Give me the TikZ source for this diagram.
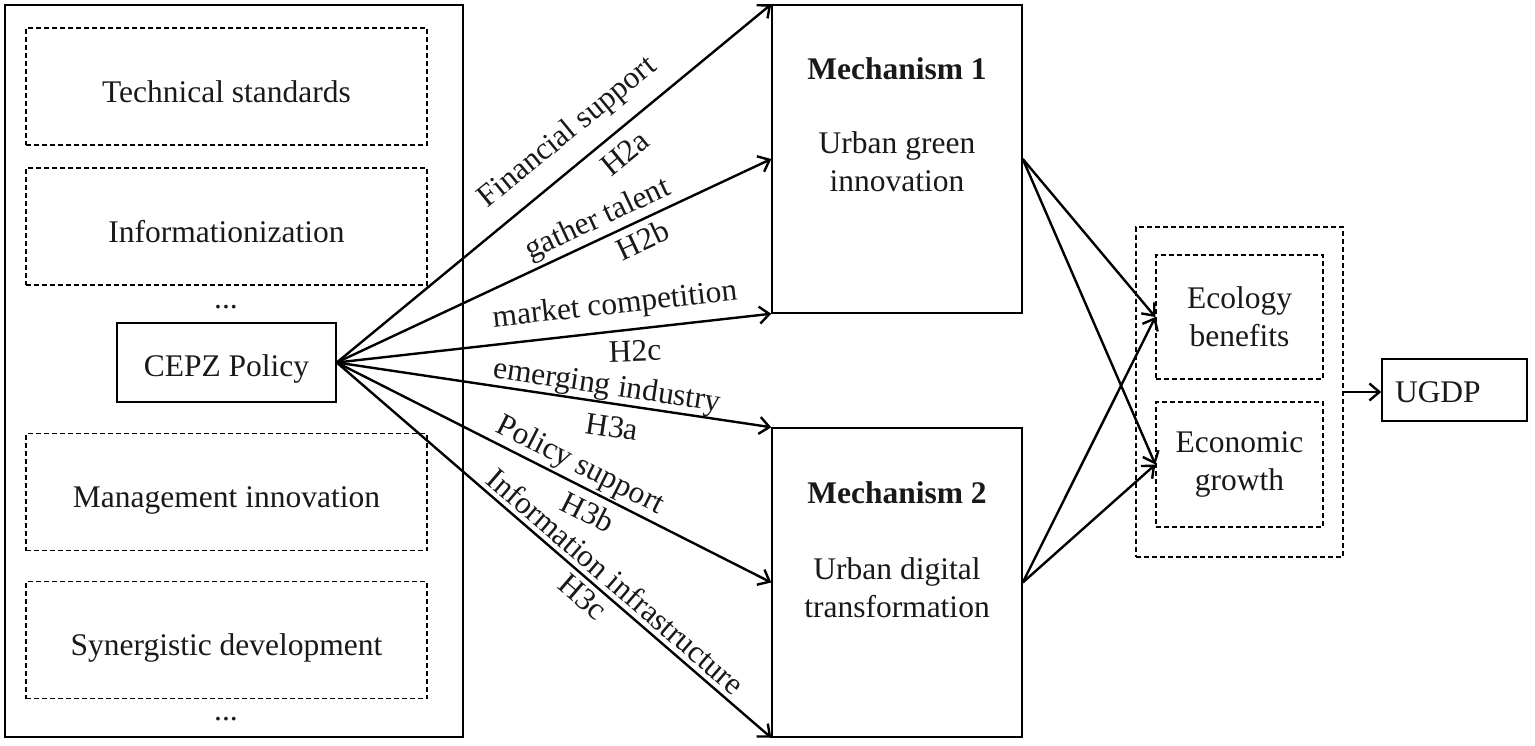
\documentclass[tikz,border=0pt]{standalone}
\usepackage{fontspec}
\setmainfont{Liberation Serif}
\usetikzlibrary{arrows.meta}
\begin{document}
\begin{tikzpicture}[x=1pt,y=-1pt,
  every node/.style={font=\fontsize{31.5}{38}\selectfont, text=black!90},
  solidbox/.style={draw, line width=1.5pt, inner sep=0pt},
  dashbox/.style={draw, line width=1.3pt, dash pattern=on 5pt off 3pt, inner sep=0pt},
  lowtext/.style={text height=#1, text depth=0pt},
  arr/.style={line width=2.4pt, -{Straight Barb[length=10pt,width=17pt]}},
  lbl/.style={inner sep=0pt, anchor=center}]
\useasboundingbox (0,0) rectangle (1535,745);
% left panel
\node[solidbox, minimum width=458pt, minimum height=732pt] (outer) at (234,371) {};
\node[dashbox, lowtext=31pt, minimum width=401pt, minimum height=117pt] (tech) at (226.5,86.5) {Technical standards};
\node[dashbox, lowtext=31pt, minimum width=401pt, minimum height=117pt] (info) at (226.5,226.5) {Informationization};
\node[lbl] (dots1) at (226,307) {...};
\node[solidbox, lowtext=28pt, minimum width=219pt, minimum height=79pt] (cepz) at (226.5,362.5) {CEPZ Policy};
\node[dashbox, lowtext=31pt, minimum width=401pt, minimum height=117pt] (mgmt) at (226.5,492) {Management innovation};
\node[dashbox, lowtext=31pt, minimum width=401pt, minimum height=117pt] (syn) at (226.5,640) {Synergistic development};
\node[lbl] (dots2) at (226,719) {...};
% mechanisms
\node[solidbox, minimum width=250pt, minimum height=308pt] (m1) at (897,159) {};
\node[lbl, font=\fontsize{31.5}{38}\selectfont\bfseries] (m1t) at (897,69) {Mechanism 1};
\node[lbl, align=center] (m1b) at (897,162) {Urban green\\innovation};
\node[solidbox, minimum width=250pt, minimum height=309pt] (m2) at (897,582.5) {};
\node[lbl, font=\fontsize{31.5}{38}\selectfont\bfseries] (m2t) at (897,493) {Mechanism 2};
\node[lbl, align=center] (m2b) at (897,588) {Urban digital\\transformation};
% outcomes
\node[dashbox, minimum width=207pt, minimum height=330pt] (out) at (1239.5,392) {};
\node[dashbox, minimum width=167pt, minimum height=124pt, align=center] (eco) at (1239.5,317) {\raisebox{-3pt}{\parbox{160pt}{\centering Ecology\\benefits}}};
\node[dashbox, minimum width=167pt, minimum height=125pt, align=center] (econ) at (1239.5,464.5) {\raisebox{-3pt}{\parbox{160pt}{\centering Economic\\growth}}};
\node[solidbox, lowtext=25pt, minimum height=62pt, text width=119pt, inner xsep=13pt, align=left] (ugdp) at (1454.5,390) {UGDP};
% arrows from policy
\draw[arr] (cepz.east) -- (m1.north west);
\draw[arr] (cepz.east) -- (m1.west);
\draw[arr] (cepz.east) -- (m1.south west);
\draw[arr] (cepz.east) -- (m2.north west);
\draw[arr] (cepz.east) -- (m2.west);
\draw[arr] (cepz.east) -- (m2.south west);
% labels
\node[lbl, rotate=39.3] (l1) at (568,133) {Financial support};
\node[lbl, rotate=39.3] (h1) at (625,153) {H2a};
\node[lbl, rotate=25] (l2) at (598,220) {gather talent};
\node[lbl, rotate=25] (h2) at (643,240) {H2b};
\node[lbl, rotate=6.4] (l3) at (615,306) {market competition};
\node[lbl, rotate=2] (h3) at (635,351) {H2c};
\node[lbl, rotate=-8.6] (l4) at (607,387) {emerging industry};
\node[lbl, rotate=-8.6] (h4) at (612,427) {H3a};
\node[lbl, rotate=-26.8] (l5) at (580,466) {Policy support};
\node[lbl, rotate=-26.8] (h5) at (588,512) {H3b};
\node[lbl, rotate=-40.7] (l6) at (616,581) {Information infrastructure};
\node[lbl, rotate=-40.7] (h6) at (583,597) {H3c};
% arrows to outcomes
\draw[arr] (m1.east) -- (eco.west);
\draw[arr] (m1.east) -- (econ.west);
\draw[arr] (m2.east) -- (eco.west);
\draw[arr] (m2.east) -- (econ.west);
\draw[arr] (out.east) -- (ugdp.west |- out.east);
\end{tikzpicture}
\end{document}
